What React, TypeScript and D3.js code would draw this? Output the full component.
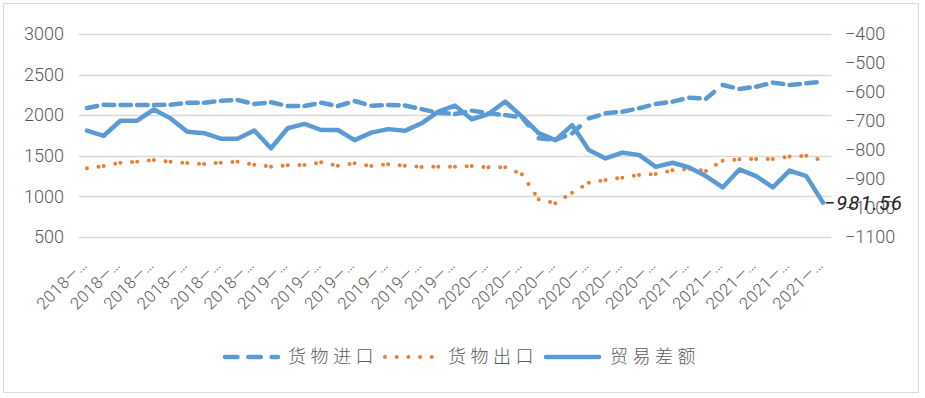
import { useEffect, useRef } from "react"
import * as d3 from "d3"

// monthly categories, 2018-01 .. 2021-09
const categories: string[] = [
  "2018—01", "2018—02", "2018—03", "2018—04", "2018—05", "2018—06",
  "2018—07", "2018—08", "2018—09", "2018—10", "2018—11", "2018—12",
  "2019—01", "2019—02", "2019—03", "2019—04", "2019—05", "2019—06",
  "2019—07", "2019—08", "2019—09", "2019—10", "2019—11", "2019—12",
  "2020—01", "2020—02", "2020—03", "2020—04", "2020—05", "2020—06",
  "2020—07", "2020—08", "2020—09", "2020—10", "2020—11", "2020—12",
  "2021—01", "2021—02", "2021—03", "2021—04", "2021—05", "2021—06",
  "2021—07", "2021—08", "2021—09",
]

// 货物进口 (left axis)
const imports: number[] = [
  2089, 2129, 2126, 2126, 2126, 2129, 2154, 2154, 2179, 2187, 2138, 2159,
  2113, 2113, 2154, 2113, 2175, 2117, 2126, 2120, 2075, 2030, 2015, 2056,
  2023, 2002, 1975, 1715, 1695, 1777, 1962, 2023, 2043, 2085, 2138, 2167,
  2216, 2204, 2372, 2323, 2351, 2401, 2372, 2393, 2413,
]

// 货物出口 (left axis)
const exports: number[] = [
  1346, 1374, 1415, 1427, 1448, 1427, 1411, 1399, 1415, 1427, 1390, 1366,
  1383, 1387, 1420, 1378, 1407, 1374, 1395, 1378, 1362, 1366, 1366, 1374,
  1358, 1358, 1272, 964, 915, 1046, 1169, 1202, 1231, 1263, 1276, 1321,
  1340, 1313, 1440, 1456, 1461, 1461, 1490, 1502, 1440,
]

// 贸易差额 (right axis)
const balance: number[] = [
  -733, -751, -699, -699, -660, -691, -737, -742, -761, -761, -733, -794,
  -725, -710, -731, -731, -766, -740, -728, -734, -708, -668, -647, -694,
  -676, -633, -685, -742, -766, -714, -800, -829, -809, -817, -858, -844,
  -860, -890, -929, -867, -890, -929, -871, -890, -981.56,
]

const leftTicks = [500, 1000, 1500, 2000, 2500, 3000]
const rightTicks = [-400, -500, -600, -700, -800, -900, -1000, -1100]

const BLUE = "#5B9BD5"
const ORANGE = "#ED7D31"
const TEXT = "#595959"
const GRID = "#D9D9D9"
const NUM_FONT = "Roboto, 'Noto Sans', sans-serif"
const CJK_FONT = "'Noto Sans CJK SC', sans-serif"

export default function App() {
  const svgRef = useRef<SVGSVGElement>(null)

  useEffect(() => {
    if (!svgRef.current) return
    const svg = d3.select(svgRef.current)
    svg.selectAll("*").remove()

    const width = 925
    const height = 398
    const plotLeft = 78.6
    const plotRight = 831.4
    const plotTop = 34
    const plotBottom = 237

    svg.attr("width", width).attr("height", height)

    // chart border
    svg
      .append("rect")
      .attr("x", 3.5)
      .attr("y", 3.5)
      .attr("width", 915)
      .attr("height", 389)
      .attr("fill", "white")
      .attr("stroke", GRID)
      .attr("stroke-width", 1)

    const x = d3.scaleBand<string>().domain(categories).range([plotLeft, plotRight]).padding(0)
    const cx = (i: number) => (x(categories[i]) as number) + x.bandwidth() / 2
    const yL = d3.scaleLinear().domain([500, 3000]).range([plotBottom, plotTop])
    const yR = d3.scaleLinear().domain([-1100, -400]).range([plotBottom, plotTop])

    // gridlines
    svg
      .append("g")
      .selectAll("line")
      .data(leftTicks)
      .enter()
      .append("line")
      .attr("x1", plotLeft)
      .attr("x2", plotRight)
      .attr("y1", (d) => Math.round(yL(d)) + 0.5)
      .attr("y2", (d) => Math.round(yL(d)) + 0.5)
      .attr("stroke", GRID)
      .attr("stroke-width", 1.3)

    // left axis
    const leftAxis = svg
      .append("g")
      .attr("transform", `translate(${plotLeft},0)`)
      .call(
        d3
          .axisLeft(yL)
          .tickValues(leftTicks)
          .tickSize(0)
          .tickPadding(14.6)
          .tickFormat((d) => String(d))
      )
    leftAxis.select(".domain").remove()
    leftAxis
      .selectAll("text")
      .attr("fill", TEXT)
      .style("font-family", NUM_FONT)
      .style("font-weight", "300")
      .style("font-size", "18px")

    // right axis
    const rightAxis = svg
      .append("g")
      .attr("transform", `translate(${plotRight},0)`)
      .call(
        d3
          .axisRight(yR)
          .tickValues(rightTicks)
          .tickSize(0)
          .tickPadding(13.6)
          .tickFormat((d) => `−${Math.abs(d as number)}`)
      )
    rightAxis.select(".domain").remove()
    rightAxis
      .selectAll("text")
      .attr("fill", TEXT)
      .style("font-family", NUM_FONT)
      .style("font-weight", "300")
      .style("font-size", "18px")

    // category labels (every other month, truncated like Excel)
    svg
      .append("g")
      .selectAll("text")
      .data(categories.map((c, i) => ({ c, i })).filter((d) => d.i % 2 === 0))
      .enter()
      .append("text")
      .attr("transform", (d) => `translate(${cx(d.i) + 1},${266}) rotate(-45)`)
      .attr("text-anchor", "end")
      .attr("fill", TEXT)
      .style("font-family", NUM_FONT)
      .style("font-weight", "300")
      .style("font-size", "16.5px")
      .style("letter-spacing", "0.5px")
      .text((d) => d.c.slice(0, 5) + "…")

    const idx = d3.range(categories.length)

    // 货物进口: dashed, dash restarts on each segment
    const lineL = d3.line<number>().x((i) => cx(i))
    d3.pairs(idx).forEach(([a, b]) => {
      svg
        .append("path")
        .attr("d", lineL.y((i) => yL(imports[i]))([a, b]))
        .attr("fill", "none")
        .attr("stroke", BLUE)
        .attr("stroke-width", 4.5)
        .attr("stroke-linecap", "round")
        .attr("stroke-dasharray", "10.5 30")
    })

    // 货物出口: round dots, restarting on each segment
    d3.pairs(idx).forEach(([a, b]) => {
      svg
        .append("path")
        .attr("d", lineL.y((i) => yL(exports[i]))([a, b]))
        .attr("fill", "none")
        .attr("stroke", ORANGE)
        .attr("stroke-width", 4)
        .attr("stroke-linecap", "round")
        .attr("stroke-dasharray", "0 11.7")
    })

    // 贸易差额: solid on the right axis
    const lineR = d3
      .line<number>()
      .x((i) => cx(i))
      .y((i) => yR(balance[i]))
    svg
      .append("path")
      .attr("d", lineR(idx))
      .attr("fill", "none")
      .attr("stroke", BLUE)
      .attr("stroke-width", 4.5)
      .attr("stroke-linejoin", "round")
      .attr("stroke-linecap", "round")

    // data label on the last point
    const last = categories.length - 1
    svg
      .append("text")
      .attr("x", cx(last) + 1)
      .attr("y", yR(balance[last]))
      .attr("dy", "0.35em")
      .attr("fill", "#262626")
      .style("font-family", NUM_FONT)
      .style("font-style", "italic")
      .style("font-size", "20px")
      .style("letter-spacing", "1.2px")
      .text(`−${Math.abs(balance[last])}`)

    // legend
    const legendY = 357
    const legend = svg.append("g")
    legend
      .append("line")
      .attr("x1", 225)
      .attr("x2", 278)
      .attr("y1", legendY)
      .attr("y2", legendY)
      .attr("stroke", BLUE)
      .attr("stroke-width", 4.5)
      .attr("stroke-linecap", "round")
      .attr("stroke-dasharray", "12.5 10.8")
    legend
      .append("line")
      .attr("x1", 385)
      .attr("x2", 432)
      .attr("y1", legendY)
      .attr("y2", legendY)
      .attr("stroke", ORANGE)
      .attr("stroke-width", 4)
      .attr("stroke-linecap", "round")
      .attr("stroke-dasharray", "0 11.7")
    legend
      .append("line")
      .attr("x1", 546)
      .attr("x2", 599)
      .attr("y1", legendY)
      .attr("y2", legendY)
      .attr("stroke", BLUE)
      .attr("stroke-width", 4.5)
      .attr("stroke-linecap", "round")

    const legendLabels = [
      { t: "货物进口", x: 288 },
      { t: "货物出口", x: 448 },
      { t: "贸易差额", x: 610 },
    ]
    legend
      .selectAll("text")
      .data(legendLabels)
      .enter()
      .append("text")
      .attr("x", (d) => d.x)
      .attr("y", legendY)
      .attr("dy", "0.35em")
      .attr("fill", TEXT)
      .style("font-family", CJK_FONT)
      .style("font-weight", "300")
      .style("font-size", "18px")
      .style("letter-spacing", "4.5px")
      .text((d) => d.t)
  }, [])

  return (
    <svg
      ref={svgRef}
      style={{ position: "absolute", left: 0, top: 0, display: "block" }}
    ></svg>
  )
}
